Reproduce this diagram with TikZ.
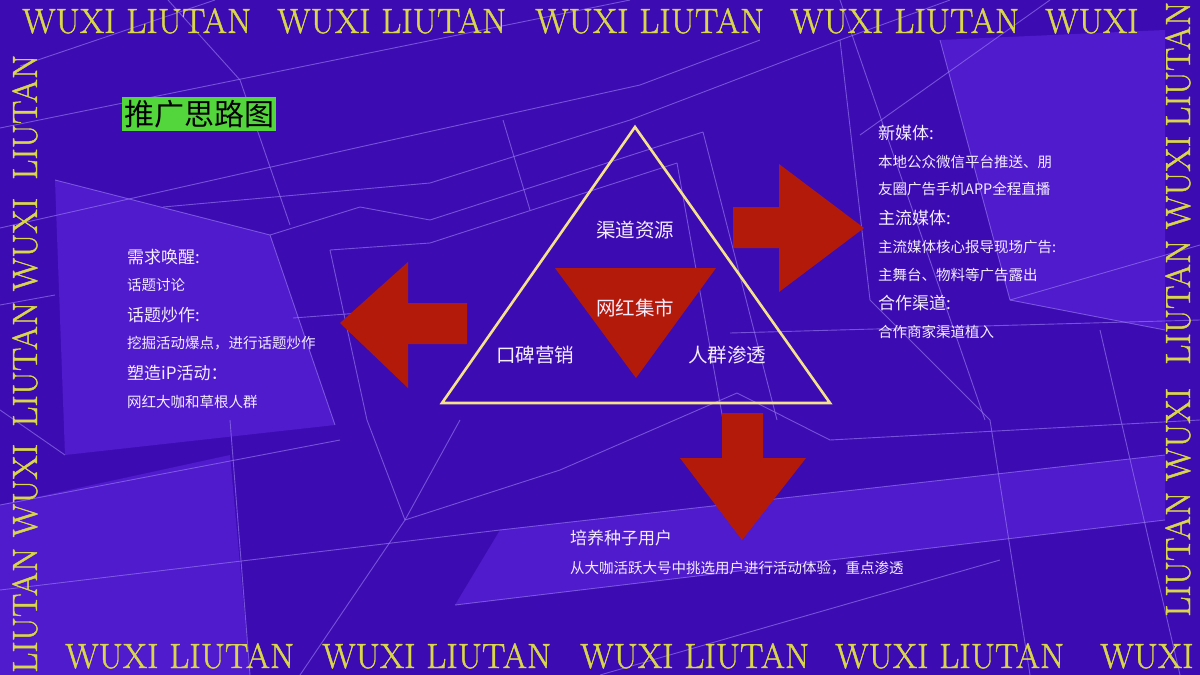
\documentclass[tikz,border=0pt]{standalone}
\usepackage{fontspec}
\usepackage{graphicx}
\usepackage{tikz}
\newfontfamily\cjk{Noto Sans CJK SC}
\newfontfamily\wxfont{lmroman17-regular.otf}[FakeBold=1.2]
\definecolor{bgblue}{RGB}{60, 12, 178}
\definecolor{bglight}{RGB}{80, 26, 205}
\definecolor{gridline}{RGB}{150, 120, 240}
\definecolor{wxyellow}{RGB}{218, 214, 74}
\definecolor{arrowred}{RGB}{180, 26, 10}
\definecolor{trigold}{RGB}{246, 226, 140}
\definecolor{titlegreen}{RGB}{82, 214, 60}
\definecolor{txtwhite}{RGB}{244, 236, 255}
\newcommand{\wxtext}[1]{\scalebox{1.0}[1]{\wxfont\fontsize{35}{35}\selectfont #1}}
\tikzset{
  grid line/.style={gridline, line width=0.9pt, opacity=0.65},
  border text/.style={text=wxyellow, inner sep=0pt, anchor=base west},
  headtxt/.style={font=\cjk\fontsize{17}{17}\selectfont, text=txtwhite, anchor=west, inner sep=0pt},
  bodytxt/.style={font=\cjk\fontsize{14.5}{14.5}\selectfont, text=txtwhite, anchor=west, inner sep=0pt},
  trilabel/.style={font=\cjk\fontsize{19.5}{19.5}\selectfont, text=txtwhite, inner sep=0pt},
}

\begin{document}
\begin{tikzpicture}[x=1pt, y=-1pt]
\useasboundingbox (0,0) rectangle (1200,675);
% background and lighter panels
\fill[bgblue] (0,0) rectangle (1200,675);
\fill[bglight] (55,180) -- (270,235) -- (335,425) -- (65,455) -- cycle;
\fill[bglight] (940,40) -- (1165,30) -- (1165,330) -- (1010,300) -- cycle;
\fill[bglight] (500,530) -- (1165,455) -- (1165,520) -- (455,605) -- cycle;
\fill[bglight] (0,505) -- (230,455) -- (250,675) -- (0,675) -- cycle;

% perspective lines
\draw[grid line] (20,66) -- (215,0);
\draw[grid line] (0,128) -- (630,0);
\draw[grid line] (168,0) -- (240,80) -- (290,225);
\draw[grid line] (0,228) -- (360,147) -- (640,85) -- (760,40);
\draw[grid line] (0,305) -- (55,295);
\draw[grid line] (163,207) -- (430,183) -- (630,120) -- (840,40) -- (950,0);
\draw[grid line] (55,180) -- (270,235) -- (360,207) -- (430,220) -- (703,132);
\draw[grid line] (270,235) -- (335,425);
\draw[grid line] (330,250) -- (430,243) -- (677,163);
\draw[grid line] (330,250) -- (367,420) -- (405,520);
\draw[grid line] (293,318) -- (360,313);
\draw[grid line] (503,120) -- (530,210);
\draw[grid line] (677,163) -- (723,420);
\draw[grid line] (703,132) -- (777,420);
\draw[grid line] (840,40) -- (870,300);
\draw[grid line] (870,300) -- (990,420) -- (1030,675);
\draw[grid line] (940,40) -- (1010,300) -- (1165,330);
\draw[grid line] (840,0) -- (985,420);
\draw[grid line] (1050,0) -- (860,135);
\draw[grid line] (1010,300) -- (1200,245);
\draw[grid line] (730,333) -- (1200,320);
\draw[grid line] (830,440) -- (1200,420);
\draw[grid line] (1100,330) -- (1180,675);
\draw[grid line] (405,520) -- (560,470) -- (737,393) -- (830,440);
\draw[grid line] (460,420) -- (405,520) -- (300,675);
\draw[grid line] (500,530) -- (1165,455);
\draw[grid line] (455,605) -- (1165,520);
\draw[grid line] (230,420) -- (250,675);
\draw[grid line] (0,505) -- (340,440);
\draw[grid line] (0,590) -- (500,530);
\draw[grid line] (600,675) -- (1000,560);
\draw[grid line] (0,410) -- (65,455);

% border lettering
\foreach \x in {22,277,535,790} {
  \node[border text] at (\x,33) {\wxtext{WUXI LIUTAN}};
}
\node[border text] (topend) at (1045,33) {\wxtext{WUXI}};
\foreach \x in {65,322,580,835} {
  \node[border text] at (\x,668) {\wxtext{WUXI LIUTAN}};
}
\node[border text] (botend) at (1100,668) {\wxtext{WUXI}};
\foreach \y in {673,427} {
  \node[border text, rotate=90] at (37,\y) {\wxtext{LIUTAN WUXI}};
}
\node[border text, rotate=90] (lefttop) at (37,180) {\wxtext{LIUTAN}};
\foreach \y in {617,365} {
  \node[border text, rotate=90] at (1190,\y) {\wxtext{LIUTAN WUXI}};
}
\node[border text, rotate=90] (righttop) at (1190,127) {\wxtext{LIUTAN}};

% title
\node[fill=titlegreen, text=black, font=\cjk\fontsize{30}{30}\selectfont,
  inner xsep=2pt, inner ysep=3pt, anchor=north west] (title) at (122,97) {推广思路图};

% block arrows
\fill[arrowred] (467,303) -- (408,303) -- (408,262) -- (340,323) -- (408,388) -- (408,344) -- (467,344) -- cycle;
\fill[arrowred] (733,207) -- (779,207) -- (779,164) -- (864,228) -- (779,292) -- (779,248) -- (733,248) -- cycle;
\fill[arrowred] (722,413) -- (763,413) -- (763,458) -- (806,458) -- (742,540) -- (680,458) -- (722,458) -- cycle;

% triangles
\coordinate (apex) at (635,127);
\coordinate (bl) at (442,403);
\coordinate (br) at (830,403);
\fill[arrowred] (555,268) -- (716,268) -- (636,378) -- cycle;
\draw[trigold, line width=2.6pt, line join=miter] (apex) -- (bl) -- (br) -- cycle;
\node[trilabel] (channel) at (635,230) {渠道资源};
\node[trilabel] (market) at (635,308) {网红集市};
\node[trilabel] (mouth) at (535,355) {口碑营销};
\node[trilabel] (crowd) at (727,355) {人群渗透};

% left block
\node[headtxt] (l1) at (127,257) {需求唤醒:};
\node[bodytxt] (l2) at (127,285) {话题讨论};
\node[headtxt] (l3) at (127,315) {话题炒作:};
\node[bodytxt] (l4) at (127,343) {挖掘活动爆点，进行话题炒作};
\node[headtxt] (l5) at (127,373) {塑造iP活动：};
\node[bodytxt] (l6) at (127,402) {网红大咖和草根人群};

% right block
\node[headtxt] (r1) at (878,133) {新媒体:};
\node[bodytxt] (r2) at (878,162) {本地公众微信平台推送、朋};
\node[bodytxt] (r3) at (878,189) {友圈广告手机APP全程直播};
\node[headtxt] (r4) at (878,218) {主流媒体:};
\node[bodytxt] (r5) at (878,247) {主流媒体核心报导现场广告:};
\node[bodytxt] (r6) at (878,275) {主舞台、物料等广告露出};
\node[headtxt] (r7) at (878,303) {合作渠道:};
\node[bodytxt] (r8) at (878,332) {合作商家渠道植入};

% bottom block
\node[headtxt] (b1) at (570,538) {培养种子用户};
\node[bodytxt] (b2) at (570,568) {从大咖活跃大号中挑选用户进行活动体验，重点渗透};
\end{tikzpicture}
\end{document}
